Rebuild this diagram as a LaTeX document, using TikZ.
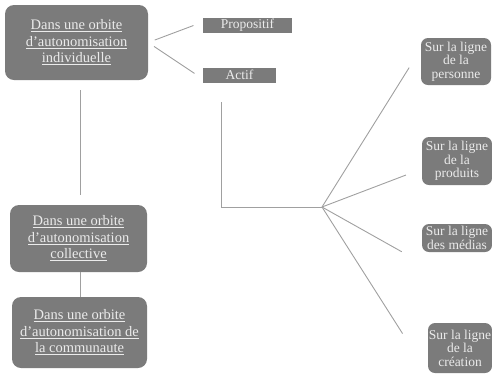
\documentclass[tikz,border=0pt]{standalone}
\usepackage{fontspec}
\setmainfont{Liberation Serif}

\definecolor{boxgray}{HTML}{7B7B7B}
\definecolor{linegray}{HTML}{A0A0A0}

\newcommand{\ul}[1]{\underline{#1}}

\tikzset{
    orbit/.style={fill=boxgray, rounded corners=9pt, text=white!92!black,
        align=center, inner sep=0pt, font=\fontsize{14.5}{16.5}\selectfont},
    mode/.style={fill=boxgray, text=white!92!black, inner sep=0pt,
        text height=7.5pt, text depth=0pt, font=\fontsize{13.5}{14}\selectfont},
    ligne/.style={fill=boxgray, rounded corners=7pt, text=white!92!black,
        align=center, inner sep=0pt, font=\fontsize{13.5}{13.5}\selectfont},
    link/.style={draw=linegray, line width=0.9pt}
}

\begin{document}
\begin{tikzpicture}[x=1pt, y=-1pt]
    \useasboundingbox (0,0) rectangle (492,376);

    % Orbits.
    \node[orbit, minimum width=143, minimum height=75] (indiv)   at (76.5 , 42.5)
        {\ul{Dans une orbite}\\\ul{d'autonomisation}\\\ul{individuelle}};
    \node[orbit, minimum width=137, minimum height=67] (collect) at (78.5 , 238.5)
        {\ul{Dans une orbite}\\\ul{d'autonomisation}\\\ul{collective}};
    \node[orbit, minimum width=135, minimum height=71] (commun)  at (79.5 , 332.5)
        {\ul{Dans une orbite}\\\ul{d'autonomisation de}\\\ul{la communaute}};

    % Modes.
    \node[mode, minimum width=89, minimum height=15] (prop)  at (247.5, 25)   {Propositif};
    \node[mode, minimum width=73, minimum height=15] (actif) at (239.5, 75.5) {Actif};

    % Lines.
    \node[ligne, minimum width=70, minimum height=47] (personne) at (456, 61.5) {Sur la ligne\\de la\\personne};
    \node[ligne, minimum width=70, minimum height=48] (produits) at (457, 161)  {Sur la ligne\\de la\\produits};
    \node[ligne, minimum width=70, minimum height=28] (medias)   at (457, 238)  {Sur la ligne\\des médias};
    \node[ligne, minimum width=64, minimum height=50] (creation) at (460, 348)  {Sur la ligne\\de la\\création};

    % Points of the branching.
    \coordinate (drop)   at (221, 102);
    \coordinate (corner) at (221, 207);
    \coordinate (hub)    at (322, 207);

    % Connectors.
    \draw[link, shorten <=7pt, shorten >=10pt] (indiv.east) -- ([yshift=3pt]prop.west);
    \draw[link, shorten <=7pt, shorten >=10pt] (indiv.east) -- ([yshift=-3.5pt]actif.west);
    \draw[link, shorten <=10pt, shorten >=10pt] ([xshift=3.5pt]indiv.south) -- ([xshift=3.5pt]indiv.south |- collect.north);
    \draw[link] ([xshift=1.5pt]collect.south) -- ([xshift=1.5pt]collect.south |- commun.north);
    \draw[link] (drop) -- (corner) -- (hub);
    \draw[link, shorten >=22pt] (hub) -- ([yshift=12.5pt]personne.west);
    \draw[link, shorten >=17pt] (hub) -- ([yshift=-8pt]produits.west);
    \draw[link, shorten >=23pt] (hub) -- ([yshift=-25pt]medias.west);
    \draw[link, shorten >=47pt] (hub) -- (creation.south west);

\end{tikzpicture}
\end{document}
